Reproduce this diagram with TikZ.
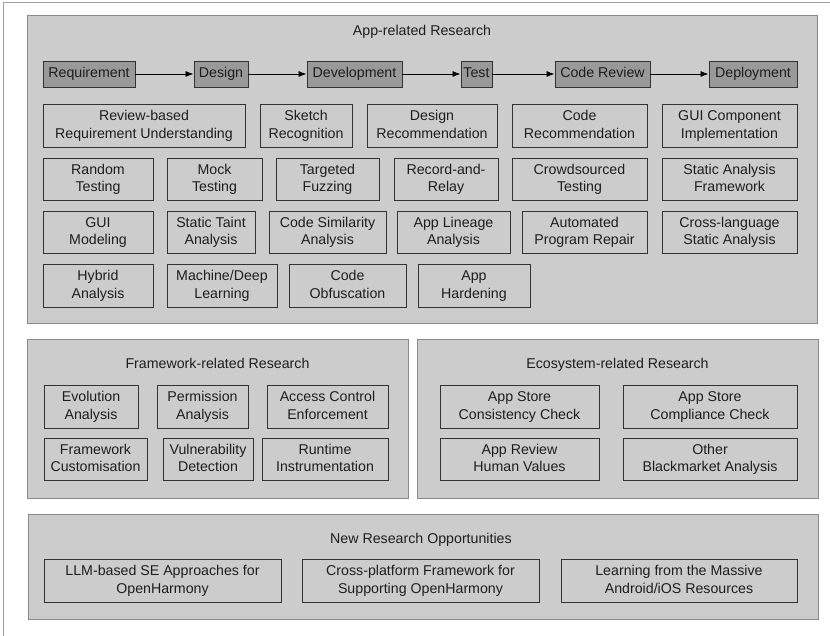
\documentclass[tikz,border=0pt]{standalone}
\usepackage{fontspec}
\setmainfont{Liberation Sans}
\usetikzlibrary{arrows.meta}
\definecolor{panelfill}{HTML}{CCCCCC}
\definecolor{panelline}{HTML}{8A8A8A}
\definecolor{stagefill}{HTML}{999999}
\definecolor{boxline}{HTML}{333333}
\definecolor{txt}{HTML}{1E1E1E}
\definecolor{frameline}{HTML}{A0A0A0}
\newcommand{\mystrut}{\rule[-3pt]{0pt}{14pt}}
\tikzset{
  panel/.style={fill=panelfill, draw=panelline, line width=0.9pt},
  ptitle/.style={anchor=base, text=txt, font=\fontsize{14.2}{17.5}\selectfont, inner sep=0pt},
  item/.style={draw=boxline, line width=0.9pt, align=center, text=txt, inner sep=0pt,
    font=\fontsize{14.2}{17.5}\selectfont, minimum height=42.5pt,
    execute at begin node=\mystrut, execute at end node=\mystrut},
  stage/.style={draw=boxline, fill=stagefill, line width=0.9pt, text=txt, inner sep=0pt,
    font=\fontsize{14.2}{17}\selectfont, minimum height=26pt,
    execute at begin node=\mystrut},
  flow/.style={draw=black, line width=0.8pt, -{Latex[length=8pt,width=6pt]}}
}
\begin{document}
\begin{tikzpicture}[x=1pt,y=-1pt]
\useasboundingbox (0,0) rectangle (830,636);
% outer frame lines
\draw[frameline, line width=1pt] (3,636) -- (3,3) -- (830,3);

% ===== App-related panel =====
\draw[panel] (27,15) rectangle (817,323);
\node[ptitle] (apptitle) at (422,36) {App-related Research};

\node[stage, minimum width=92pt] (req) at (89,74) {Requirement};
\node[stage, minimum width=54pt] (des) at (221,74) {Design};
\node[stage, minimum width=95pt] (dev) at (354.5,74) {Development};
\node[stage, minimum width=31pt] (tst) at (476.5,74) {Test};
\node[stage, minimum width=95pt] (crv) at (602.5,74) {Code Review};
\node[stage, minimum width=88pt] (dep) at (753,74) {Deployment};
\draw[flow] (req) -- (des);
\draw[flow] (des) -- (dev);
\draw[flow] (dev) -- (tst);
\draw[flow] (tst) -- (crv);
\draw[flow] (crv) -- (dep);

% row 1
\node[item, minimum width=202pt] (a11) at (144,126) {Review-based\\Requirement Understanding};
\node[item, minimum width=92pt] (a12) at (306,126) {Sketch\\Recognition};
\node[item, minimum width=130pt] (a13) at (432,126) {Design\\Recommendation};
\node[item, minimum width=135pt] (a14) at (579.5,126) {Code\\Recommendation};
\node[item, minimum width=135pt] (a15) at (729.5,126) {GUI Component\\Implementation};
% row 2
\node[item, minimum width=110pt] (a21) at (98,179.5) {Random\\Testing};
\node[item, minimum width=95pt] (a22) at (214.5,179.5) {Mock\\Testing};
\node[item, minimum width=103pt] (a23) at (327.5,179.5) {Targeted\\Fuzzing};
\node[item, minimum width=104pt] (a24) at (446,179.5) {Record-and-\\Relay};
\node[item, minimum width=135pt] (a25) at (579.5,179.5) {Crowdsourced\\Testing};
\node[item, minimum width=135pt] (a26) at (729.5,179.5) {Static Analysis\\Framework};
% row 3
\node[item, minimum width=110pt] (a31) at (98,232.5) {GUI\\Modeling};
\node[item, minimum width=88pt] (a32) at (211,232.5) {Static Taint\\Analysis};
\node[item, minimum width=117pt] (a33) at (327.5,232.5) {Code Similarity\\Analysis};
\node[item, minimum width=113pt] (a34) at (453.5,232.5) {App Lineage\\Analysis};
\node[item, minimum width=125pt] (a35) at (584.5,232.5) {Automated\\Program Repair};
\node[item, minimum width=135pt] (a36) at (729.5,232.5) {Cross-language\\Static Analysis};
% row 4
\node[item, minimum width=110pt] (a41) at (98,286) {Hybrid\\Analysis};
\node[item, minimum width=110pt] (a42) at (222,286) {Machine/Deep\\Learning};
\node[item, minimum width=117pt] (a43) at (347.5,286) {Code\\Obfuscation};
\node[item, minimum width=112pt] (a44) at (474,286) {App\\Hardening};

% ===== Framework-related panel =====
\draw[panel] (27,339) rectangle (408,498);
\node[ptitle] (fwtitle) at (217.5,368) {Framework-related Research};
\node[item, minimum width=94pt] (f11) at (91,407) {Evolution\\Analysis};
\node[item, minimum width=91pt] (f12) at (202.5,407) {Permission\\Analysis};
\node[item, minimum width=121pt] (f13) at (327.5,407) {Access Control\\Enforcement};
\node[item, minimum width=103pt] (f21) at (95.5,459.5) {Framework\\Customisation};
\node[item, minimum width=90pt] (f22) at (208,459.5) {Vulnerability\\Detection};
\node[item, minimum width=126pt] (f23) at (325,459.5) {Runtime\\Instrumentation};

% ===== Ecosystem-related panel =====
\draw[panel] (417,339) rectangle (818,498);
\node[ptitle] (ectitle) at (617.5,368) {Ecosystem-related Research};
\node[item, minimum width=159pt] (e11) at (519.5,407) {App Store\\Consistency Check};
\node[item, minimum width=174pt] (e12) at (710,407) {App Store\\Compliance Check};
\node[item, minimum width=159pt] (e21) at (519.5,459.5) {App Review\\Human Values};
\node[item, minimum width=174pt] (e22) at (710,459.5) {Other\\Blackmarket Analysis};

% ===== New Research Opportunities =====
\draw[panel] (28,514) rectangle (818,619);
\node[ptitle] (nrtitle) at (421,543) {New Research Opportunities};
\node[item, minimum width=237pt] (n1) at (162.5,581) {LLM-based SE Approaches for\\OpenHarmony};
\node[item, minimum width=237pt] (n2) at (420.5,581) {Cross-platform Framework for\\Supporting OpenHarmony};
\node[item, minimum width=236pt] (n3) at (679,581) {Learning from the Massive\\Android/iOS Resources};
\end{tikzpicture}
\end{document}
